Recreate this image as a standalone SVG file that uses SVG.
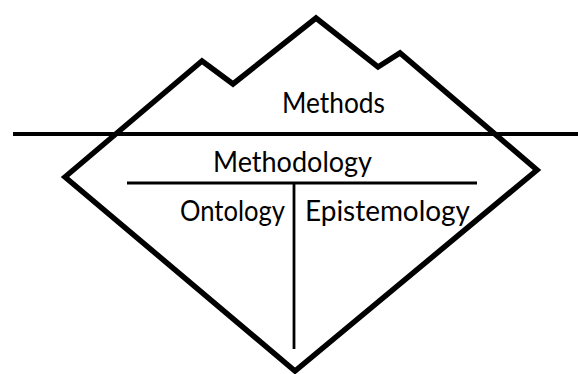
<svg xmlns="http://www.w3.org/2000/svg" width="578" height="374" viewBox="0 0 578 374">
  <style>
    .shape { fill: none; stroke: #000; stroke-linejoin: miter; }
    .label { font-family: "Lato", "Liberation Sans", sans-serif; font-size: 28px; fill: #000; }
  </style>
  <rect width="578" height="374" fill="#fff"/>

  <!-- Iceberg outline: peaks above, point below -->
  <g id="iceberg">
    <path class="shape" stroke-width="5.5" d="M65,177 L202,61 L233,84 L316,18 L378,67 L400,53 L537,170 L295,371 Z"/>
  </g>

  <!-- Waterline and internal dividers -->
  <g id="connectors">
    <line class="shape" stroke-width="4" x1="13" y1="134" x2="578" y2="134"/>
    <line class="shape" stroke-width="2.8" x1="127" y1="183" x2="477" y2="183"/>
    <line class="shape" stroke-width="2.8" x1="294" y1="183" x2="294" y2="349"/>
  </g>

  <g id="methods">
    <text class="label" x="282" y="113" textLength="103" lengthAdjust="spacingAndGlyphs">Methods</text>
  </g>
  <g id="methodology">
    <text class="label" x="213" y="172" textLength="159" lengthAdjust="spacingAndGlyphs">Methodology</text>
  </g>
  <g id="ontology">
    <text class="label" x="180" y="221" textLength="105" lengthAdjust="spacingAndGlyphs">Ontology</text>
  </g>
  <g id="epistemology">
    <text class="label" x="305" y="221" textLength="165" lengthAdjust="spacingAndGlyphs">Epistemology</text>
  </g>
</svg>
